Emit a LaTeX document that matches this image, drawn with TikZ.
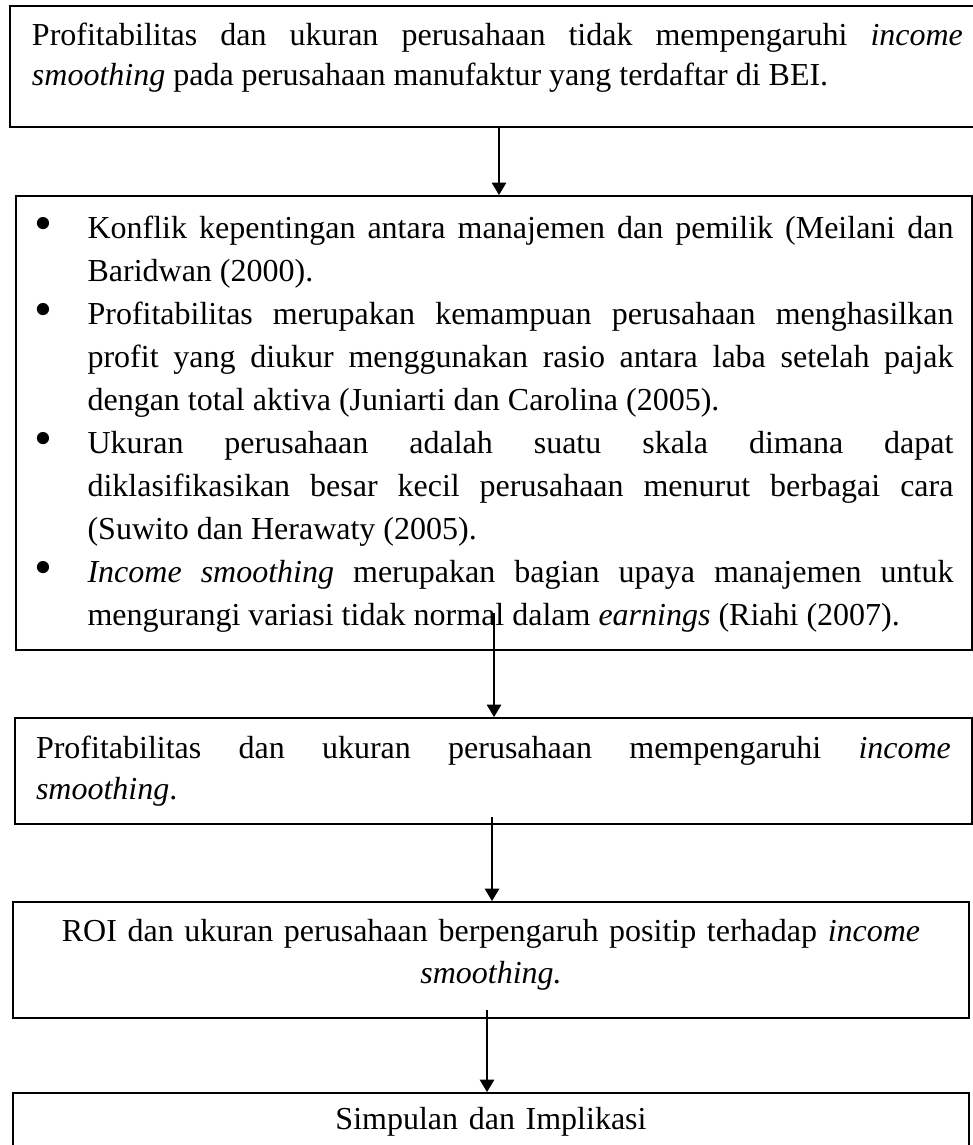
\documentclass[tikz,border=0pt]{standalone}
\usepackage{fontspec}
\setmainfont{Liberation Serif}
\usetikzlibrary{arrows.meta,positioning}
\tolerance=10000
\hbadness=10000
\newcommand{\bulletitem}[1]{\hangindent=19.9pt\hangafter=1 \makebox[19.9pt][l]{\raisebox{-1.1pt}{\scalebox{1.6}{\textbullet}}}#1\par}

\begin{document}
\begin{tikzpicture}[x=0.375pt,y=-0.375pt]
	%defines
	\tikzstyle{frameBox} = [rectangle, draw=black, line width=0.75pt, anchor=north west, inner ysep=0pt]
	\tikzstyle{problemBox} = [frameBox, inner xsep=8.25pt, text width=349.1pt, text height=15pt, text depth=30.4pt, align=justify, font=\fontsize{12pt}{15pt}\selectfont]
	\tikzstyle{theoryBox} = [frameBox, inner xsep=6.94pt, text width=344.6pt, text height=15.75pt, text depth=154.5pt, align=justify, font=\fontsize{12pt}{16.125pt}\selectfont]
	\tikzstyle{hypothesisBox} = [frameBox, inner xsep=7.875pt, text width=343.1pt, text height=15pt, text depth=24.75pt, align=justify, font=\fontsize{12pt}{15.375pt}\selectfont]
	\tikzstyle{resultBox} = [frameBox, inner xsep=7.7pt, text width=343.1pt, text height=14.625pt, text depth=28.875pt, align=center, font=\fontsize{12pt}{15.75pt}\selectfont]
	\tikzstyle{conclusionBox} = [frameBox, inner xsep=7.7pt, text width=343.1pt, text height=13.5pt, text depth=30pt, align=center, font=\fontsize{12pt}{15pt}\selectfont]
	\tikzstyle{arrow} = [line width=0.45pt,-{Triangle[width=5.4pt,length=4.6pt]}]
	\useasboundingbox (0,0) rectangle (972,1145);
	%chart
	\node (problem) [problemBox] at (9,5) {Profitabilitas dan ukuran perusahaan tidak mempengaruhi \textit{income}\linebreak \textit{smoothing} pada perusahaan manufaktur yang terdaftar di BEI.};
	\node (theory) [theoryBox] at (15,195) {%
		\bulletitem{Konflik kepentingan antara manajemen dan pemilik (Meilani dan\linebreak Baridwan (2000).}
		\bulletitem{Profitabilitas merupakan kemampuan perusahaan menghasilkan\linebreak profit yang diukur menggunakan rasio antara laba setelah pajak\linebreak dengan total aktiva (Juniarti dan Carolina (2005).}
		\bulletitem{Ukuran perusahaan adalah suatu skala dimana dapat\linebreak diklasifikasikan besar kecil perusahaan menurut berbagai cara\linebreak (Suwito dan Herawaty (2005).}
		\bulletitem{\textit{Income smoothing} merupakan bagian upaya manajemen untuk\linebreak mengurangi variasi tidak normal dalam \textit{earnings} (Riahi (2007).}};
	\node (hypothesis) [hypothesisBox] at (14,717) {Profitabilitas dan ukuran perusahaan mempengaruhi \textit{income}\linebreak \textit{smoothing}.};
	\node (result) [resultBox] at (12,901) {ROI dan ukuran perusahaan berpengaruh positip terhadap \textit{income}\\ \textit{smoothing.}};
	\node (conclusion) [conclusionBox] at (12,1092) {Simpulan dan Implikasi};
	\coordinate (arrA) at (499,126);
	\coordinate (arrB) at (494,613);
	\coordinate (arrC) at (492,817);
	\coordinate (arrD) at (487,1010);
	\draw [arrow] (problem.south -| arrA) -- (theory.north -| arrA);
	\draw [arrow] (arrB) -- (hypothesis.north -| arrB);
	\draw [arrow] (arrC) -- (result.north -| arrC);
	\draw [arrow] (arrD) -- (conclusion.north -| arrD);
\end{tikzpicture}
\end{document}
